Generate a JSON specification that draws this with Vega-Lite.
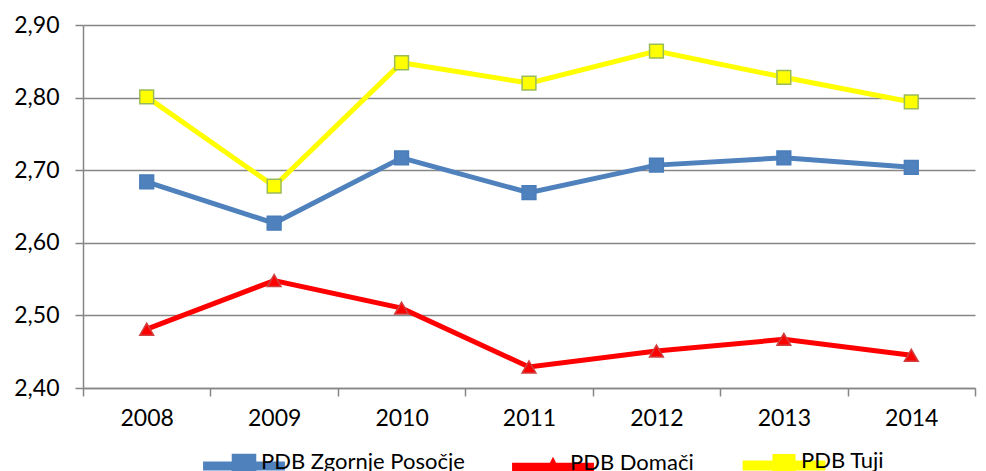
{
  "$schema": "https://vega.github.io/schema/vega-lite/v6.json",
  "width": 892,
  "height": 363,
  "autosize": {"type": "none"},
  "padding": {"left": 83, "top": 25, "right": 11, "bottom": 83},
  "background": "white",
  "config": {
    "view": {"stroke": null},
    "font": "Lato",
    "axis": {"labelFont": "Lato", "labelColor": "#000000", "titleFont": "Lato"}
  },
  "data": {
    "values": [
      {"year": "2008", "series": "PDB Zgornje Posočje", "value": 2.684},
      {"year": "2009", "series": "PDB Zgornje Posočje", "value": 2.627},
      {"year": "2010", "series": "PDB Zgornje Posočje", "value": 2.717},
      {"year": "2011", "series": "PDB Zgornje Posočje", "value": 2.669},
      {"year": "2012", "series": "PDB Zgornje Posočje", "value": 2.707},
      {"year": "2013", "series": "PDB Zgornje Posočje", "value": 2.717},
      {"year": "2014", "series": "PDB Zgornje Posočje", "value": 2.704},
      {"year": "2008", "series": "PDB Domači", "value": 2.481},
      {"year": "2009", "series": "PDB Domači", "value": 2.548},
      {"year": "2010", "series": "PDB Domači", "value": 2.510},
      {"year": "2011", "series": "PDB Domači", "value": 2.429},
      {"year": "2012", "series": "PDB Domači", "value": 2.451},
      {"year": "2013", "series": "PDB Domači", "value": 2.467},
      {"year": "2014", "series": "PDB Domači", "value": 2.445},
      {"year": "2008", "series": "PDB Tuji", "value": 2.801},
      {"year": "2009", "series": "PDB Tuji", "value": 2.678},
      {"year": "2010", "series": "PDB Tuji", "value": 2.848},
      {"year": "2011", "series": "PDB Tuji", "value": 2.820},
      {"year": "2012", "series": "PDB Tuji", "value": 2.864},
      {"year": "2013", "series": "PDB Tuji", "value": 2.828},
      {"year": "2014", "series": "PDB Tuji", "value": 2.794}
    ]
  },
  "encoding": {
    "x": {
      "field": "year",
      "type": "ordinal",
      "scale": {"type": "band", "paddingInner": 0, "paddingOuter": 0},
      "axis": {
        "title": null,
        "labelAngle": 0,
        "labelFontSize": 23,
        "labelPadding": 11,
        "tickBand": "extent",
        "tickSize": 8,
        "tickColor": "#868686",
        "tickWidth": 1.5,
        "domainColor": "#868686",
        "domainWidth": 1.5,
        "grid": false
      }
    },
    "y": {
      "field": "value",
      "type": "quantitative",
      "scale": {"domain": [2.4, 2.9], "nice": false, "zero": false},
      "axis": {
        "title": null,
        "values": [2.4, 2.5, 2.6, 2.7, 2.8, 2.9],
        "labelExpr": "replace(format(datum.value, '.2f'), '.', ',')",
        "labelFontSize": 23,
        "labelPadding": 16,
        "tickSize": 8,
        "tickColor": "#868686",
        "tickWidth": 1.5,
        "domainColor": "#868686",
        "domainWidth": 1.5,
        "grid": true,
        "gridColor": "#868686",
        "gridWidth": 1.5
      }
    }
  },
  "layer": [
    {
      "mark": {"type": "line", "strokeWidth": 5},
      "encoding": {
        "color": {
          "field": "series",
          "type": "nominal",
          "scale": {
            "domain": ["PDB Zgornje Posočje", "PDB Domači", "PDB Tuji"],
            "range": ["#4F81BD", "#FF0000", "#FFFF00"]
          },
          "legend": {
            "title": null,
            "orient": "none",
            "direction": "horizontal",
            "legendX": 150,
            "legendY": 425,
            "symbolSize": 6700,
            "labelFont": "Lato",
            "labelFontSize": 22,
            "labelColor": "#000000",
            "labelOffset": 6,
            "labelLimit": 400,
            "columnPadding": 47,
            "encode": {
              "symbols": {
                "update": {
                  "shape": {"signal": "datum.value === 'PDB Domači' ? 'M-1,-0.01L1,-0.01L1,0.21L-1,0.21Z M-0.25,0.33L0,-0.16L0.25,0.33Z' : datum.value === 'PDB Tuji' ? 'M-1,-0.01L1,-0.01L1,0.21L-1,0.21Z M-0.27,-0.17L0.27,-0.17L0.27,0.37L-0.27,0.37Z' : 'M-1,-0.01L1,-0.01L1,0.21L-1,0.21Z M-0.3,-0.2L0.3,-0.2L0.3,0.4L-0.3,0.4Z'"},
                  "fill": {"signal": "datum.value === 'PDB Domači' ? '#FF0000' : datum.value === 'PDB Tuji' ? '#FFFF00' : '#4F81BD'"},
                  "fillOpacity": {"value": 1},
                  "opacity": {"value": 1},
                  "stroke": {"signal": "datum.value === 'PDB Tuji' ? '#9BBB59' : 'transparent'"},
                  "strokeWidth": {"signal": "datum.value === 'PDB Tuji' ? 1 : 0"}
                }
              }
            }
          }
        }
      }
    },
    {
      "transform": [{"filter": "datum.series !== 'PDB Domači'"}],
      "mark": {"type": "point", "shape": "square", "filled": true, "opacity": 1, "size": 190, "strokeWidth": 1.5},
      "encoding": {
        "stroke": {
          "field": "series",
          "type": "nominal",
          "scale": {
            "domain": ["PDB Zgornje Posočje", "PDB Domači", "PDB Tuji"],
            "range": ["#4A7EBB", "#D04040", "#9BBB59"]
          },
          "legend": null
        },
        "fill": {
          "field": "series",
          "type": "nominal",
          "scale": {
            "domain": ["PDB Zgornje Posočje", "PDB Domači", "PDB Tuji"],
            "range": ["#4F81BD", "#FF0000", "#FFFF00"]
          },
          "legend": null
        }
      }
    },
    {
      "transform": [{"filter": "datum.series === 'PDB Domači'"}],
      "mark": {"type": "point", "shape": "triangle-up", "filled": true, "opacity": 1, "size": 190, "strokeWidth": 1.5, "fill": "#FF0000", "stroke": "#D04040"},
      "encoding": {}
    }
  ]
}
